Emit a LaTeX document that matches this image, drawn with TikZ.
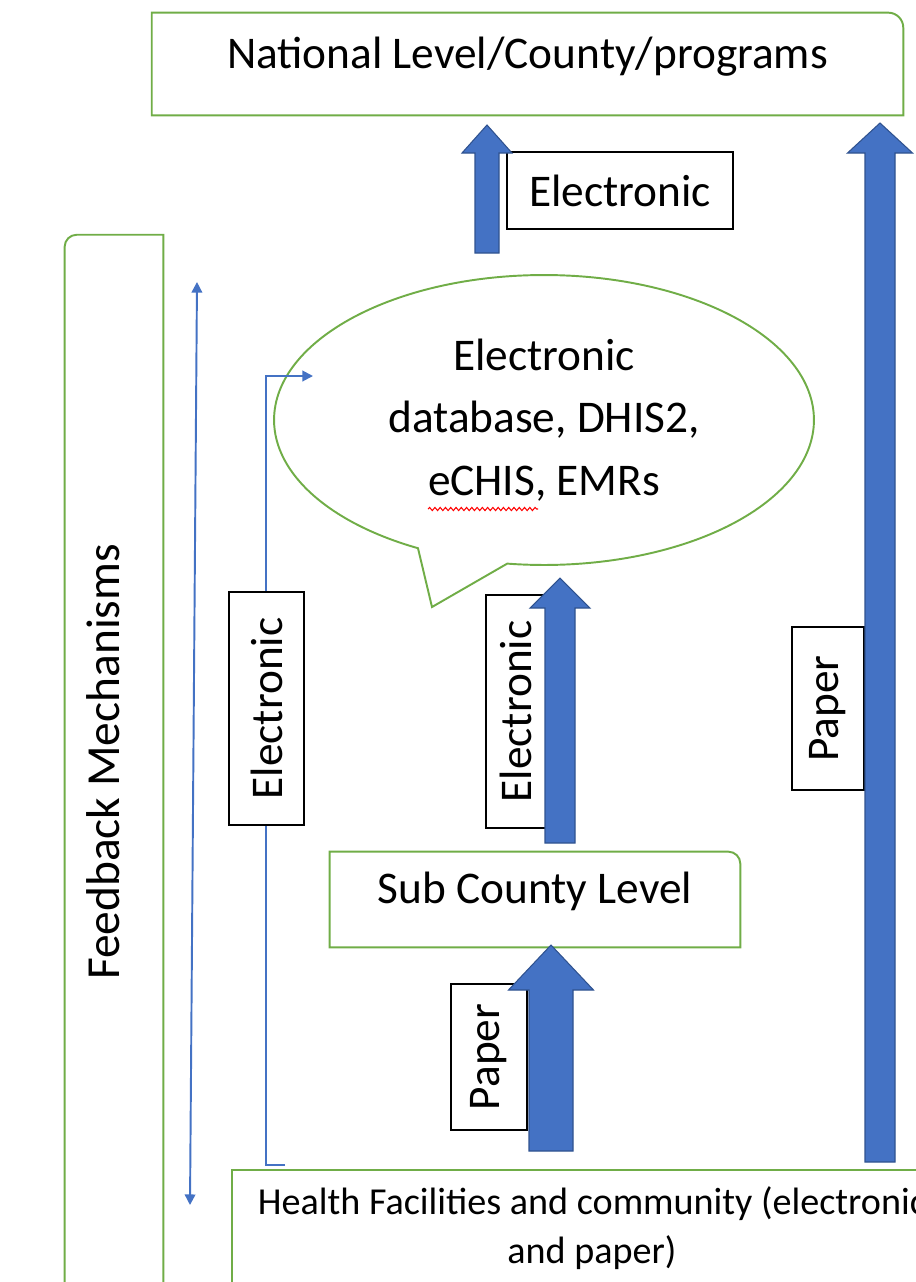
\documentclass[tikz,border=0pt]{standalone}
\usepackage{fontspec}
\setmainfont{Carlito}
\usepackage{tikz}
\usetikzlibrary{positioning,shapes.callouts,arrows.meta,calc,decorations.pathmorphing}
\definecolor{leafgreen}{HTML}{70AD47}
\definecolor{flowblue}{HTML}{4472C4}
\definecolor{flowedge}{HTML}{2F528F}
\newcommand{\bigfont}{\fontsize{25.8}{35.5}\selectfont}
% block arrow pointing up: low end, tip, half shaft, half head, head length
\newcommand{\blockup}[5]{%
  \draw[blockarr] ($(#1)+(-#3,0)$) -- ($(#2)+(-#3,#5)$) -- ($(#2)+(-#4,#5)$) -- (#2)
    -- ($(#2)+(#4,#5)$) -- ($(#2)+(#3,#5)$) -- ($(#1)+(#3,0)$) -- cycle;}

\begin{document}
\begin{tikzpicture}[x=0.02cm, y=-0.02cm,
    frame/.style={draw=leafgreen, line width=1.1pt},
    tag/.style={draw=black, fill=white, line width=0.8pt, inner sep=0pt, font=\bigfont},
    blockarr/.style={fill=flowblue, draw=flowedge, line width=0.6pt},
    thinarr/.style={draw=flowblue, line width=1.1pt},
    tip/.style={-{Triangle[length=6pt,width=6pt]}}]
  \useasboundingbox (0,0) rectangle (916,1282);
  \clip (0,0) rectangle (916,1282);

  % levels
  \node[minimum width=15.02cm, minimum height=2.04cm, text height=0.66cm, text depth=0.5cm, font=\bigfont] (national) at (527.5,64) {National Level/County/programs};
  \draw[frame] (national.south west) |- ([xshift=-0.3cm]national.north east) arc[start angle=90, end angle=0, radius=0.3cm] -- (national.south east) -- cycle;

  \node[minimum width=8.2cm, minimum height=1.9cm, text height=0.66cm, text depth=0.52cm, font=\bigfont] (sub) at (535,899.5) {Sub County Level};
  \draw[frame] (sub.south west) |- ([xshift=-0.24cm]sub.north east) arc[start angle=90, end angle=0, radius=0.24cm] -- (sub.south east) -- cycle;

  \node[anchor=north, minimum width=14.4cm, inner ysep=0.33cm, align=center, font=\fontsize{21.7}{27.8}\selectfont] (health) at (592,1170) {Health Facilities and community (electronic\\and paper)};
  \draw[frame] ([yshift=-3cm]health.north west) |- (health.north east) -- ([yshift=-3cm]health.north east);

  \node[minimum width=1.96cm, minimum height=21.08cm] (feedback) at (114,762) {};
  \draw[frame] (feedback.south west) -- ([yshift=-0.24cm]feedback.north west) arc[start angle=180, end angle=90, radius=0.24cm] -- (feedback.north east) -- (feedback.south east);
  \node[rotate=90, anchor=base, font=\fontsize{27}{32}\selectfont] (fbtext) at (119,762) {Feedback Mechanisms};

  \node[ellipse callout, draw=leafgreen, line width=1.1pt, minimum width=10.8cm, minimum height=5.8cm,
        callout absolute pointer={(432,607)}, callout pointer arc=20, align=center, font=\bigfont] (bubble) at (544,420) {Electronic\\database, DHIS2,\\eCHIS, EMRs};
  \draw[red, line width=0.6pt, decorate, decoration={snake, amplitude=0.9pt, segment length=3pt}] (428,509) -- (538,509);

  % feedback lines
  \coordinate (fbtop) at (197,282);
  \coordinate (fbbot) at (190,1205);
  \draw[thinarr, {Triangle[length=6pt,width=6pt]}-{Triangle[length=6pt,width=6pt]}] (fbtop) -- (fbbot);
  \coordinate (elbstart) at (285,1165);
  \coordinate (elbend) at (313,376);
  \draw[thinarr, tip] (elbstart) -- ++(-19,0) |- (elbend);

  % labels
  \node[tag, minimum width=4.52cm, minimum height=1.54cm] (electop) at (620,190.5) {Electronic};
  \node[tag, rotate=90, minimum width=4.66cm, minimum height=1.5cm] (elecleft) at (266.5,708.5) {Electronic};
  \node[tag, rotate=90, minimum width=4.66cm, minimum height=1.2cm] (elecmid) at (516,711.5) {Electronic};
  \node[tag, rotate=90, minimum width=2.92cm, minimum height=1.52cm] (paperlow) at (489,1057) {Paper};
  \node[tag, rotate=90, minimum width=3.26cm, minimum height=1.44cm] (paperright) at (828,708.5) {Paper};

  % block arrows
  \coordinate (toplow) at (487,253);
  \coordinate (toptip) at (487,125);
  \coordinate (rightlow) at (880,1162);
  \coordinate (righttip) at (880,123);
  \coordinate (midlow) at (560,843);
  \coordinate (midtip) at (560,578);
  \coordinate (sublow) at (551,1151);
  \coordinate (subtip) at (551,945);
  \blockup{toplow}{toptip}{12}{25}{28}
  \blockup{rightlow}{righttip}{15}{32.5}{30}
  \blockup{midlow}{midtip}{15}{30}{30}
  \blockup{sublow}{subtip}{22}{42.5}{45}
\end{tikzpicture}
\end{document}
